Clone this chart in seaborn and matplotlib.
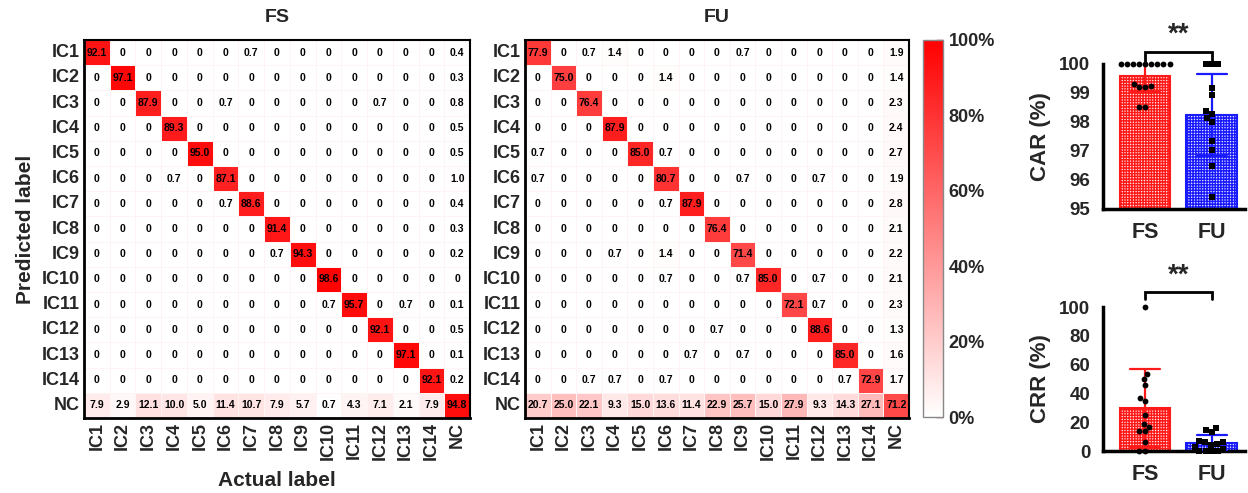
import numpy as np
import pandas as pd
import matplotlib
matplotlib.use("Agg")
import matplotlib.pyplot as plt
import seaborn as sns
from matplotlib.colors import LinearSegmentedColormap
from matplotlib import font_manager as fm

# ---------------- data ----------------
labels = ["IC1", "IC2", "IC3", "IC4", "IC5", "IC6", "IC7", "IC8", "IC9",
          "IC10", "IC11", "IC12", "IC13", "IC14", "NC"]

fs_matrix = [
    [92.1, 0, 0, 0, 0, 0, 0.7, 0, 0, 0, 0, 0, 0, 0, 0.4],
    [0, 97.1, 0, 0, 0, 0, 0, 0, 0, 0, 0, 0, 0, 0, 0.3],
    [0, 0, 87.9, 0, 0, 0.7, 0, 0, 0, 0, 0, 0.7, 0, 0, 0.8],
    [0, 0, 0, 89.3, 0, 0, 0, 0, 0, 0, 0, 0, 0, 0, 0.5],
    [0, 0, 0, 0, 95.0, 0, 0, 0, 0, 0, 0, 0, 0, 0, 0.5],
    [0, 0, 0, 0.7, 0, 87.1, 0, 0, 0, 0, 0, 0, 0, 0, 1.0],
    [0, 0, 0, 0, 0, 0.7, 88.6, 0, 0, 0, 0, 0, 0, 0, 0.4],
    [0, 0, 0, 0, 0, 0, 0, 91.4, 0, 0, 0, 0, 0, 0, 0.3],
    [0, 0, 0, 0, 0, 0, 0, 0.7, 94.3, 0, 0, 0, 0, 0, 0.2],
    [0, 0, 0, 0, 0, 0, 0, 0, 0, 98.6, 0, 0, 0, 0, 0],
    [0, 0, 0, 0, 0, 0, 0, 0, 0, 0.7, 95.7, 0, 0.7, 0, 0.1],
    [0, 0, 0, 0, 0, 0, 0, 0, 0, 0, 0, 92.1, 0, 0, 0.5],
    [0, 0, 0, 0, 0, 0, 0, 0, 0, 0, 0, 0, 97.1, 0, 0.1],
    [0, 0, 0, 0, 0, 0, 0, 0, 0, 0, 0, 0, 0, 92.1, 0.2],
    [7.9, 2.9, 12.1, 10.0, 5.0, 11.4, 10.7, 7.9, 5.7, 0.7, 4.3, 7.1, 2.1, 7.9, 94.8],
]

fu_matrix = [
    [77.9, 0, 0.7, 1.4, 0, 0, 0, 0, 0.7, 0, 0, 0, 0, 0, 1.9],
    [0, 75.0, 0, 0, 0, 1.4, 0, 0, 0, 0, 0, 0, 0, 0, 1.4],
    [0, 0, 76.4, 0, 0, 0, 0, 0, 0, 0, 0, 0, 0, 0, 2.3],
    [0, 0, 0, 87.9, 0, 0, 0, 0, 0, 0, 0, 0, 0, 0, 2.4],
    [0.7, 0, 0, 0, 85.0, 0.7, 0, 0, 0, 0, 0, 0, 0, 0, 2.7],
    [0.7, 0, 0, 0, 0, 80.7, 0, 0, 0.7, 0, 0, 0.7, 0, 0, 1.9],
    [0, 0, 0, 0, 0, 0.7, 87.9, 0, 0, 0, 0, 0, 0, 0, 2.8],
    [0, 0, 0, 0, 0, 0, 0, 76.4, 0, 0, 0, 0, 0, 0, 2.1],
    [0, 0, 0, 0.7, 0, 1.4, 0, 0, 71.4, 0, 0, 0, 0, 0, 2.2],
    [0, 0, 0, 0, 0, 0.7, 0, 0, 0.7, 85.0, 0, 0.7, 0, 0, 2.1],
    [0, 0, 0, 0, 0, 0, 0, 0, 0, 0, 72.1, 0.7, 0, 0, 2.3],
    [0, 0, 0, 0, 0, 0, 0, 0.7, 0, 0, 0, 88.6, 0, 0, 1.3],
    [0, 0, 0, 0, 0, 0, 0.7, 0, 0.7, 0, 0, 0, 85.0, 0, 1.6],
    [0, 0, 0.7, 0.7, 0, 0.7, 0, 0, 0, 0, 0, 0, 0.7, 72.9, 1.7],
    [20.7, 25.0, 22.1, 9.3, 15.0, 13.6, 11.4, 22.9, 25.7, 15.0, 27.9, 9.3, 14.3, 27.1, 71.2],
]

groups = ["FS", "FU"]
car_fs = [100, 100, 100, 100, 100, 100, 100, 100, 100, 99.2, 99.3, 99.2, 99.25, 98.5, 98.5]
car_fu = [100, 100, 100, 99.17, 98.94, 98.37, 98.28, 98.14, 98.0, 97.33, 97.05, 96.47, 95.4]
crr_fs = [100, 53.5, 50, 46, 37, 35, 25, 19, 17, 14, 14, 6, 0, 0]
crr_fu = [16, 14.5, 13, 7, 6, 6, 5, 4, 3, 1.5, 0, 0, 0, 0]
cbar_ticks = [0, 20, 40, 60, 80, 100]

# ---------------- style ----------------
sns.set_style("white")
plt.rcParams["font.family"] = ["Liberation Sans", "DejaVu Sans"]
plt.rcParams["hatch.linewidth"] = 1.0

names = {f.name for f in fm.fontManager.ttflist}
if "Liberation Sans Narrow" in names:
    ann_family, ann_size = "Liberation Sans Narrow", 8.6
else:
    ann_family, ann_size = "Liberation Sans", 7.5

W, H = 1248, 493
fig = plt.figure(figsize=(W / 100, H / 100), dpi=100)


def fa(l, t, r, b):
    return [l / W, 1 - b / H, (r - l) / W, (b - t) / H]


cmap = LinearSegmentedColormap.from_list("wr", ["#ffffff", "#ff0000"])


def annot_text(m):
    return np.array([["0" if v == 0 else f"{v:.1f}" for v in row] for row in m])


ax_fs = fig.add_axes(fa(84, 40, 470, 418))
ax_fu = fig.add_axes(fa(525, 40, 909, 418))
cax = fig.add_axes(fa(923, 40, 943, 417))

for ax, m, draw_cbar in [(ax_fs, fs_matrix, False), (ax_fu, fu_matrix, True)]:
    df = pd.DataFrame(m, index=labels, columns=labels)
    sns.heatmap(df, ax=ax, cmap=cmap, vmin=0, vmax=100,
                annot=annot_text(m), fmt="",
                annot_kws={"fontsize": ann_size, "family": ann_family,
                           "weight": "bold", "color": "black"},
                linewidths=0.5, linecolor="#fff4f4",
                cbar=draw_cbar, cbar_ax=cax if draw_cbar else None)
    for name, s in ax.spines.items():
        s.set_visible(True)
        s.set_color("black")
        s.set_linewidth(2.0 if name in ("left", "bottom") else 1.5)
    ax.tick_params(axis="both", direction="in", length=4, width=1.2,
                   color="black", pad=3)
    ax.set_yticklabels(labels, rotation=0, fontsize=13, fontweight="bold")
    ax.set_xticklabels(labels, rotation=90, fontsize=13, fontweight="bold")
    ax.set_xlabel("")
    ax.set_ylabel("")

cb = ax_fu.collections[0].colorbar
cb.set_ticks(cbar_ticks)
cb.set_ticklabels([f"{t}%" for t in cbar_ticks])
cb.ax.tick_params(direction="in", length=5, width=1, color="#a03030",
                  labelsize=13, pad=4)
for t in cb.ax.get_yticklabels():
    t.set_fontweight("bold")
cb.outline.set_edgecolor("#888888")
cb.outline.set_linewidth(1.0)

fig.text(277 / W, 1 - 18 / H, "FS", ha="center", va="center",
         fontsize=14, fontweight="bold")
fig.text(717 / W, 1 - 18 / H, "FU", ha="center", va="center",
         fontsize=14, fontweight="bold")
fig.text(26 / W, 1 - 229 / H, "Predicted label", ha="center", va="center",
         rotation=90, fontsize=15, fontweight="bold")
fig.text(277 / W, 1 - 480 / H, "Actual label", ha="center", va="center",
         fontsize=15, fontweight="bold")

# ---------------- bar charts ----------------
ax_car = fig.add_axes(fa(1103, 64, 1245, 209))
ax_crr = fig.add_axes(fa(1103, 307, 1245, 451))

colors = {"FS": "#ff1a1a", "FU": "#1a1aff"}


def bar_panel(ax, fs_vals, fu_vals, ylim, yticks, ylabel, br_y, br_leg, star_y):
    df = pd.DataFrame({"group": ["FS"] * len(fs_vals) + ["FU"] * len(fu_vals),
                       "val": list(fs_vals) + list(fu_vals)})
    sns.barplot(data=df, x="group", y="val", order=groups, ax=ax,
                errorbar="sd", capsize=0.45, width=0.76,
                err_kws={"linewidth": 1.6, "color": "black"},
                color="white")
    for p, g in zip(ax.patches, groups):
        p.set_facecolor("#ffe6e6" if g == "FS" else "#e6e6ff")
        p.set_edgecolor(colors[g])
        p.set_linewidth(1.5)
        p.set_hatch("++++++")
    for ln in ax.lines:
        xd = np.asarray(ln.get_xdata(), dtype=float)
        ln.set_color(colors["FS"] if np.nanmean(xd) < 0.5 else colors["FU"])
        ln.set_zorder(3)
    n0 = len(ax.collections)
    sns.swarmplot(data=df[df.group == "FS"], x="group", y="val", order=groups,
                  ax=ax, color="black", marker="o", size=4.2)
    sns.swarmplot(data=df[df.group == "FU"], x="group", y="val", order=groups,
                  ax=ax, color="black", marker="s", size=4.2)
    for c in ax.collections[n0:]:
        c.set_clip_on(False)
        c.set_zorder(4)
    ax.set_xlim(-0.63, 1.5)
    ax.set_ylim(*ylim)
    ax.set_yticks(yticks)
    ax.set_xlabel("")
    ax.set_ylabel(ylabel, fontsize=16, fontweight="bold", labelpad=6)
    sns.despine(ax=ax)
    for s in ("left", "bottom"):
        ax.spines[s].set_linewidth(2.5)
        ax.spines[s].set_color("black")
    ax.tick_params(axis="both", direction="out", length=6, width=2.5,
                   color="black", labelsize=13.5, pad=3)
    ax.tick_params(axis="x", labelsize=15.5)
    for t in ax.get_xticklabels() + ax.get_yticklabels():
        t.set_fontweight("bold")
    ax.plot([0, 0, 1, 1], [br_leg, br_y, br_y, br_leg], color="black",
            lw=2, clip_on=False, solid_joinstyle="miter")
    ax.text(0.5, star_y, "**", ha="center", va="center", fontsize=20,
            fontweight="bold", clip_on=False)


bar_panel(ax_car, car_fs, car_fu, (95, 100), [95, 96, 97, 98, 99, 100],
          "CAR (%)", 100.41, 100.02, 101.0)
bar_panel(ax_crr, crr_fs, crr_fu, (0, 100), [0, 20, 40, 60, 80, 100],
          "CRR (%)", 110.4, 105.5, 122.0)

fig.savefig("out.png", dpi=100)
